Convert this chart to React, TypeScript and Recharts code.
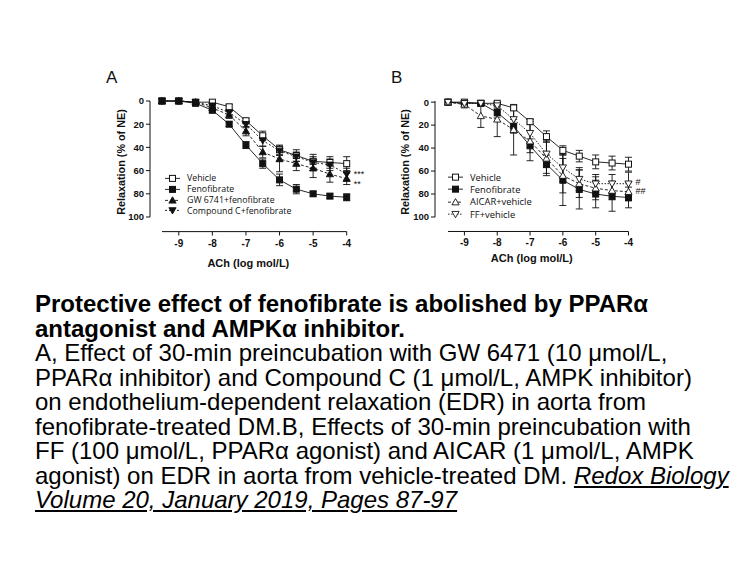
import React from "react";
import {
  ComposedChart,
  Line,
  XAxis,
  YAxis,
  ErrorBar,
  ReferenceLine,
  ReferenceDot,
  Label,
  Legend,
} from "recharts";

// log molar ACh doses and axis ticks
const doses = [-9.5, -9, -8.5, -8, -7.5, -7, -6.5, -6, -5.5, -5, -4.5, -4];
const doseTicks = [-9, -8, -7, -6, -5, -4];
const relaxTicks = [0, 20, 40, 60, 80, 100];

// panel A
const vehicleA = [0, 0, 1, 1, 5, 17, 30, 42, 47, 52, 53, 54];
const vehicleAErr = [0, 0, 1, 1, 2, 2, 4, 4, 5, 6, 5, 6];
const fenoA = [0, 0, 2, 8, 20, 38, 54, 68, 76, 80, 82, 83];
const fenoAErr = [0, 0, 1, 2, 2, 3, 4, 5, 4, 2, 2, 3];
const gwA = [0, 0, 1, 6, 12, 26, 44, 50, 54, 58, 63, 67];
const gwAErr = [0, 0, 1, 2, 3, 4, 5, 11, 6, 8, 7, 5];
const ccA = [0, 0, 1, 4, 10, 20, 34, 43, 48, 53, 55, 63];
const ccAErr = [0, 0, 1, 1, 2, 3, 5, 4, 4, 5, 5, 5];

// panel B
const vehicleB = [0, 0, 1, 1, 5, 17, 30, 42, 47, 52, 53, 54];
const vehicleBErr = [0, 0, 1, 1, 2, 2, 5, 4, 5, 6, 6, 6];
const fenoB = [0, 1, 1, 9, 21, 38, 54, 68, 76, 80, 82, 83];
const fenoBErr = [0, 1, 2, 4, 6, 6, 8, 22, 17, 12, 13, 9];
const aicarB = [0, 2, 12, 15, 24, 34, 49, 64, 71, 75, 77, 78];
const aicarBErr = [0, 3, 10, 15, 22, 17, 15, 15, 12, 10, 8, 8];
const ffB = [0, 1, 1, 3, 15, 27, 45, 57, 67, 71, 71, 71];
const ffBErr = [0, 1, 1, 3, 10, 12, 12, 12, 10, 8, 8, 10];

const INK = "#111";
const SANS = "'Liberation Sans', Arial, sans-serif";
const LEGEND_FONT = "'Open Sans', 'Noto Sans', sans-serif";

type MarkerKind = "squareOpen" | "square" | "triUp" | "triDown" | "triUpOpen" | "triDownOpen";

type Series = {
  key: string;
  name: string;
  values: number[];
  errors: number[];
  marker: MarkerKind;
  dash?: string;
};

const seriesA: Series[] = [
  { key: "veh", name: "Vehicle", values: vehicleA, errors: vehicleAErr, marker: "squareOpen" },
  { key: "feno", name: "Fenofibrate", values: fenoA, errors: fenoAErr, marker: "square" },
  { key: "gw", name: "GW 6741+fenofibrate", values: gwA, errors: gwAErr, marker: "triUp", dash: "3 2" },
  { key: "cc", name: "Compound C+fenofibrate", values: ccA, errors: ccAErr, marker: "triDown", dash: "2 2" },
];

const seriesB: Series[] = [
  { key: "veh", name: "Vehicle", values: vehicleB, errors: vehicleBErr, marker: "squareOpen" },
  { key: "feno", name: "Fenofibrate", values: fenoB, errors: fenoBErr, marker: "square" },
  { key: "aicar", name: "AICAR+vehicle", values: aicarB, errors: aicarBErr, marker: "triUpOpen", dash: "3 2" },
  { key: "ff", name: "FF+vehicle", values: ffB, errors: ffBErr, marker: "triDownOpen", dash: "1.5 1.5" },
];

function Marker({ kind, cx, cy }: { kind: MarkerKind; cx: number; cy: number }) {
  if (cx == null || cy == null) return null;
  const s = 3;
  const t = 3.6;
  const open = kind === "squareOpen" || kind === "triUpOpen" || kind === "triDownOpen";
  const fill = open ? "#fff" : INK;
  if (kind === "squareOpen" || kind === "square") {
    return <rect x={cx - s} y={cy - s} width={2 * s} height={2 * s} fill={fill} stroke={INK} strokeWidth={1} />;
  }
  const up = kind === "triUp" || kind === "triUpOpen";
  const pts = up
    ? `${cx},${cy - t} ${cx - t},${cy + t * 0.75} ${cx + t},${cy + t * 0.75}`
    : `${cx},${cy + t} ${cx - t},${cy - t * 0.75} ${cx + t},${cy - t * 0.75}`;
  return <polygon points={pts} fill={fill} stroke={INK} strokeWidth={0.9} />;
}

const makeDoseTick = (labelDy: number) => (props: any) => {
  const { x, y, payload } = props;
  return (
    <g>
      <line x1={x} x2={x} y1={y + 14.5} y2={y + 18.5} stroke={INK} strokeWidth={1} />
      <text x={x} y={y + labelDy} textAnchor="middle" fontSize={10} fontWeight="bold" fill={INK} fontFamily={SANS}>
        {payload.value}
      </text>
    </g>
  );
};

type Note = { x: number; y: number; text: string };

type PanelProps = {
  letter: string;
  series: Series[];
  left: number;
  axisX: number;
  plotRight: number;
  padLeft: number;
  labelX: number;
  tickDy: number;
  xLabelOffset: number;
  legendLeft: number;
  legendTop: number;
  rowH: number;
  legendSize: number;
  notes: Note[];
};

function Panel(p: PanelProps) {
  const { letter, series, left, axisX, plotRight, padLeft, labelX, legendLeft, legendTop, rowH, notes } = p;
  const rows = doses.map((d, i) => {
    const r: Record<string, number> = { dose: d };
    series.forEach((s) => {
      r[s.key] = s.values[i];
      r[s.key + "Err"] = s.errors[i];
    });
    return r;
  });
  const yAxisW = 50;
  const width = 380;
  const mLeft = axisX - left - yAxisW;
  const DoseTick = makeDoseTick(p.tickDy);

  const renderLegend = () => (
    <div>
      {series.map((s) => (
        <div key={s.key} style={{ display: "flex", alignItems: "center", height: rowH }}>
          <svg width={15} height={rowH} style={{ overflow: "visible" }}>
            <line x1={0} x2={15} y1={rowH / 2} y2={rowH / 2} stroke={INK} strokeWidth={0.9} strokeDasharray={s.dash} />
            <Marker kind={s.marker} cx={7.5} cy={rowH / 2} />
          </svg>
          <span style={{ marginLeft: 7, fontSize: p.legendSize, fontFamily: LEGEND_FONT, color: INK, whiteSpace: "nowrap" }}>
            {s.name}
          </span>
        </div>
      ))}
    </div>
  );

  return (
    <div style={{ position: "absolute", left, top: 0 }}>
      <ComposedChart
        width={width}
        height={280}
        data={rows}
        margin={{ top: 101, left: mLeft, right: left + width - plotRight, bottom: 13 }}
      >
        <XAxis
          dataKey="dose"
          type="number"
          domain={[-9.5, -4]}
          ticks={doseTicks}
          interval={0}
          padding={{ left: padLeft, right: 0 }}
          axisLine={false}
          tickLine={false}
          tickSize={0}
          tickMargin={0}
          height={50}
          tick={<DoseTick />}
        >
          <Label
            value="ACh (log mol/L)"
            position="insideBottom"
            offset={p.xLabelOffset}
            style={{ fontSize: 11, fontWeight: "bold", fill: INK, fontFamily: SANS }}
          />
        </XAxis>
        <YAxis
          type="number"
          reversed
          domain={[0, 100]}
          ticks={relaxTicks}
          interval={0}
          width={yAxisW}
          tickSize={4}
          tickMargin={2}
          axisLine={{ stroke: INK }}
          tickLine={{ stroke: INK }}
          tick={{ fontSize: 9.5, fontWeight: "bold", fill: INK, fontFamily: SANS }}
        >
          <Label
            value="Relaxation (% of NE)"
            angle={-90}
            position="insideLeft"
            offset={labelX - (axisX - yAxisW)}
            dy={3}
            style={{ fontSize: 10.8, fontWeight: "bold", fill: INK, fontFamily: SANS, textAnchor: "middle" }}
          />
        </YAxis>
        <ReferenceLine
          segment={[
            { x: -9.5, y: 112.6 },
            { x: -4, y: 112.6 },
          ]}
          stroke={INK}
          strokeWidth={1}
          ifOverflow="visible"
        />
        {series.map((s) => (
          <Line
            key={s.key}
            dataKey={s.key}
            name={s.name}
            type="linear"
            stroke={INK}
            strokeWidth={0.9}
            strokeDasharray={s.dash}
            isAnimationActive={false}
            dot={(d: any) => <Marker key={`${s.key}-${d.index}`} kind={s.marker} cx={d.cx} cy={d.cy} />}
            activeDot={false}
          >
            <ErrorBar dataKey={s.key + "Err"} direction="y" width={3.5} stroke={INK} strokeWidth={0.9} />
          </Line>
        ))}
        {notes.map((n) => (
          <ReferenceDot key={n.text} x={n.x} y={n.y} r={0} ifOverflow="visible" stroke="none" fill="none">
            <Label
              value={n.text}
              position="right"
              offset={7}
              style={{ fontSize: 9, fill: INK, fontFamily: SANS }}
            />
          </ReferenceDot>
        ))}
        <Legend
          layout="vertical"
          align="center"
          verticalAlign="middle"
          content={renderLegend}
          wrapperStyle={{ left: legendLeft, top: legendTop, width: "auto" }}
        />
      </ComposedChart>
      <div
        style={{
          position: "absolute",
          left: letter === "A" ? 106 : 11,
          top: 68,
          fontSize: 17,
          fontFamily: SANS,
          color: INK,
        }}
      >
        {letter}
      </div>
    </div>
  );
}

const boldLines = ["Protective effect of fenofibrate is abolished by PPARα", "antagonist and AMPKα inhibitor."];
const bodyLines = [
  "A, Effect of 30-min preincubation with GW 6471 (10 μmol/L,",
  "PPARα inhibitor) and Compound C (1 μmol/L, AMPK inhibitor)",
  "on endothelium-dependent relaxation (EDR) in aorta from",
  "fenofibrate-treated DM.B, Effects of 30-min preincubation with",
  "FF (100 μmol/L, PPARα agonist) and AICAR (1 μmol/L, AMPK",
  "agonist) on EDR in aorta from vehicle-treated DM. ",
];
const journal = "Redox Biology";
const citation = "Volume 20, January 2019, Pages 87-97";

export default function App() {
  const lineTop = (i: number) => 292.4 + i * 24.5;
  const linkStyle: React.CSSProperties = { fontStyle: "italic", textDecoration: "underline" };
  const lineBase: React.CSSProperties = { position: "absolute", left: 35, lineHeight: "24.5px", fontSize: 24 };
  return (
    <div
      style={{
        position: "absolute",
        left: 0,
        top: 0,
        width: 756,
        height: 567,
        background: "#fff",
        overflow: "hidden",
        fontFamily: SANS,
        color: "#000",
      }}
    >
      <Panel
        letter="A"
        series={seriesA}
        left={0}
        axisX={150}
        plotRight={346.7}
        padLeft={12}
        labelX={121}
        tickDy={29.5}
        xLabelOffset={0}
        legendLeft={165}
        legendTop={173}
        rowH={10.8}
        legendSize={8.8}
        notes={[
          { x: -4, y: 63, text: "***" },
          { x: -4, y: 71.5, text: "**" },
        ]}
      />
      <Panel
        letter="B"
        series={seriesB}
        left={380}
        axisX={435}
        plotRight={628.5}
        padLeft={13}
        labelX={405}
        tickDy={28.5}
        xLabelOffset={5}
        legendLeft={68}
        legendTop={171}
        rowH={12.3}
        legendSize={9.4}
        notes={[
          { x: -4, y: 69, text: "#" },
          { x: -4, y: 77.5, text: "##" },
        ]}
      />
      {boldLines.map((t, i) => (
        <div key={t} style={{ ...lineBase, top: lineTop(i), fontWeight: "bold", whiteSpace: "nowrap" }}>
          {t}
        </div>
      ))}
      {bodyLines.map((t, i) => (
        <div key={t} style={{ ...lineBase, top: lineTop(i + 2), whiteSpace: "pre" }}>
          {t}
          {i === bodyLines.length - 1 && <span style={linkStyle}>{journal}</span>}
        </div>
      ))}
      <div style={{ ...lineBase, top: lineTop(8), whiteSpace: "nowrap" }}>
        <span style={linkStyle}>{citation}</span>
      </div>
    </div>
  );
}
